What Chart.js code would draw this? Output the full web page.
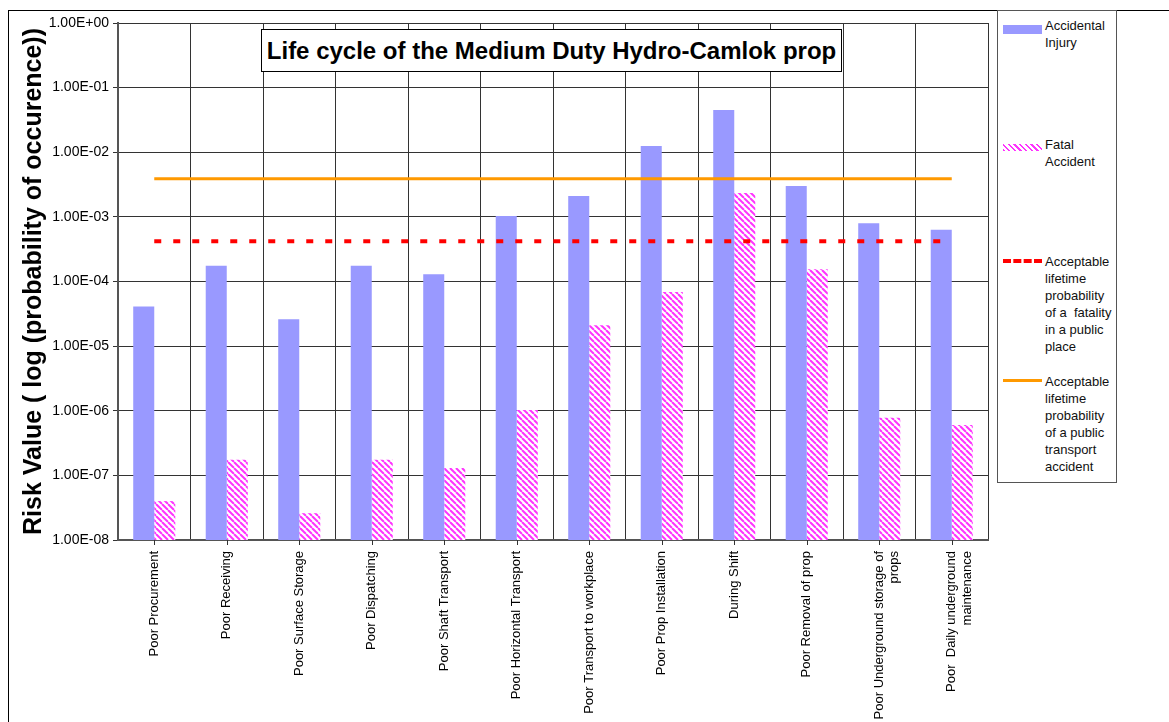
<!DOCTYPE html>
<html>
<head>
<meta charset="utf-8">
<script src="https://cdn.jsdelivr.net/npm/chart.js@4.4.1/dist/chart.umd.min.js"></script>
<style>
  html, body { margin: 0; padding: 0; background: #fff; }
  #wrap { position: relative; width: 1169px; height: 722px; overflow: hidden; font-family: "Liberation Sans", Arial, sans-serif; }
  #frame { position: absolute; left: 8px; top: 10px; right: -2px; bottom: -2px; border-top: 1px solid #000; border-left: 1px solid #000; }
  #chart { position: absolute; left: 0; top: 0; }
  #title { position: absolute; left: 261px; top: 29px; width: 579px; height: 41px; border: 1px solid #000; background: #fff;
           font-weight: bold; font-size: 24px; line-height: 41px; text-align: center; color: #000; white-space: nowrap; }
  #legend { position: absolute; left: 997px; top: 10px; width: 118px; height: 471px; border: 1px solid #555; background: #fff; }
  .sw { position: absolute; left: 5px; width: 39px; }
  .txt { position: absolute; left: 47px; font-size: 13px; line-height: 17px; color: #111; white-space: pre; }
</style>
</head>
<body>
<div id="wrap">
  <div id="frame"></div>
  <canvas id="chart" width="1169" height="722"></canvas>
  <div id="title">Life cycle of the Medium Duty Hydro-Camlok prop</div>
  <div id="legend"></div>
</div>
<script>
// categorias do ciclo de vida
const categories = [
  'Poor Procurement',
  'Poor Receiving',
  'Poor Surface Storage',
  'Poor Dispatching',
  'Poor Shaft Transport',
  'Poor Horizontal Transport',
  'Poor Transport to workplace',
  'Poor Prop Installation',
  'During Shift',
  'Poor Removal of prop',
  ['Poor Underground storage of', 'props'],
  ['Poor  Daily underground', 'maintenance']
];

const accidentalInjury = [4.1e-5, 1.75e-4, 2.6e-5, 1.75e-4, 1.3e-4, 1.03e-3, 2.1e-3, 1.25e-2, 4.5e-2, 3.0e-3, 8.0e-4, 6.3e-4];
const fatalAccident = [4.0e-8, 1.75e-7, 2.6e-8, 1.75e-7, 1.3e-7, 1.03e-6, 2.1e-5, 6.9e-5, 2.35e-3, 1.55e-4, 7.8e-7, 6.0e-7];
const fatalityPublicPlace = [4.2e-4, 4.2e-4, 4.2e-4, 4.2e-4, 4.2e-4, 4.2e-4, 4.2e-4, 4.2e-4, 4.2e-4, 4.2e-4, 4.2e-4, 4.2e-4];
const publicTransport = [3.9e-3, 3.9e-3, 3.9e-3, 3.9e-3, 3.9e-3, 3.9e-3, 3.9e-3, 3.9e-3, 3.9e-3, 3.9e-3, 3.9e-3, 3.9e-3];

const yTicks = [1, 1e-1, 1e-2, 1e-3, 1e-4, 1e-5, 1e-6, 1e-7, 1e-8];

const legendLabels = [
  'Accidental\nInjury',
  'Fatal\nAccident',
  'Acceptable\nlifetime\nprobability\nof a  fatality\nin a public\nplace',
  'Acceptable\nlifetime\nprobability\nof a public\ntransport\naccident'
];

// padrao hachurado rosa
function hatch() {
  const c = document.createElement('canvas');
  c.width = 6; c.height = 6;
  const g = c.getContext('2d');
  g.fillStyle = '#fff';
  g.fillRect(0, 0, 6, 6);
  g.strokeStyle = '#ff33ff';
  g.lineWidth = 2;
  for (let o = -6; o <= 6; o += 6) {
    g.beginPath();
    g.moveTo(o, 0);
    g.lineTo(o + 6, 6);
    g.stroke();
  }
  return g.createPattern(c, 'repeat');
}

function fmtExp(v) {
  const s = Number(v).toExponential(2).toUpperCase();
  const parts = s.split('E');
  const e = parseInt(parts[1], 10);
  return parts[0] + 'E' + (e < 0 ? '-' : '+') + String(Math.abs(e)).padStart(2, '0');
}

// marcas pequenas no centro de cada categoria
const centerTicks = {
  id: 'centerTicks',
  afterDatasetsDraw(chart) {
    const x = chart.scales.x;
    const g = chart.ctx;
    g.save();
    g.strokeStyle = '#333';
    g.lineWidth = 1;
    for (let i = 0; i < categories.length; i++) {
      const px = Math.round(x.getPixelForTick(i)) + 0.5;
      g.beginPath();
      g.moveTo(px, x.top);
      g.lineTo(px, x.top + 5);
      g.stroke();
    }
    g.restore();
  }
};

const pink = hatch();
const ctx = document.getElementById('chart');

new Chart(ctx, {
  type: 'bar',
  data: {
    labels: categories,
    datasets: [
      { label: 'Accidental Injury', data: accidentalInjury, backgroundColor: '#9999ff', order: 2,
        categoryPercentage: 0.58, barPercentage: 1 },
      { label: 'Fatal Accident', data: fatalAccident, backgroundColor: pink, order: 2,
        categoryPercentage: 0.58, barPercentage: 1 },
      { type: 'line', label: 'Acceptable lifetime probability of a fatality in a public place', data: fatalityPublicPlace,
        borderColor: '#ff0000', borderWidth: 4, borderDash: [7, 12], pointRadius: 0, fill: false, order: 1 },
      { type: 'line', label: 'Acceptable lifetime probability of a public transport accident', data: publicTransport,
        borderColor: '#ff9900', borderWidth: 3, pointRadius: 0, fill: false, order: 1 }
    ]
  },
  options: {
    responsive: false,
    animation: false,
    devicePixelRatio: 1,
    layout: { padding: { left: 8, top: 23, right: 181, bottom: 0 } },
    plugins: { legend: { display: false }, tooltip: { enabled: false } },
    scales: {
      x: {
        grid: { offset: true, color: '#333', drawTicks: false },
        border: { color: '#555', width: 2 },
        ticks: {
          autoSkip: false, maxRotation: 90, minRotation: 90, padding: 11,
          color: '#000', font: { family: 'Liberation Sans', size: 13 }
        },
        afterFit(scale) { scale.height = 182; }
      },
      y: {
        type: 'logarithmic',
        min: 1e-8,
        max: 1,
        grid: { color: '#333', tickLength: 5 },
        border: { color: '#555', width: 2 },
        afterBuildTicks(scale) { scale.ticks = yTicks.map(v => ({ value: v })); },
        afterFit(scale) { scale.width = 110; },
        ticks: {
          padding: 4, color: '#000', font: { family: 'Liberation Sans', size: 14 },
          callback: v => fmtExp(v)
        },
        title: {
          display: true,
          text: 'Risk Value ( log (probability of occurence))',
          color: '#000',
          font: { family: 'Liberation Sans', size: 25, weight: 'bold' },
          padding: { top: 11, bottom: 0 }
        }
      }
    }
  },
  plugins: [centerTicks]
});

// legenda em html
const legend = document.getElementById('legend');
const itemTops = [14, 133, 250, 370];
const swatches = [
  'top:14px;height:9px;background:#9999ff;',
  'top:133px;height:7px;background:repeating-linear-gradient(45deg,#ff33ff 0 1.5px,#fff 1.5px 4px);',
  'top:15px;height:0;border-top:4px dashed #ff0000;',
  'top:15px;height:3px;background:#ff9900;'
];
legendLabels.forEach((t, i) => {
  const sw = document.createElement('div');
  sw.className = 'sw';
  sw.style.cssText = swatches[i];
  if (i >= 2) sw.style.top = (itemTops[i] - 2) + 'px';
  legend.appendChild(sw);
  const tx = document.createElement('div');
  tx.className = 'txt';
  tx.style.top = (itemTops[i] - 8) + 'px';
  tx.textContent = t;
  legend.appendChild(tx);
});
</script>
</body>
</html>
